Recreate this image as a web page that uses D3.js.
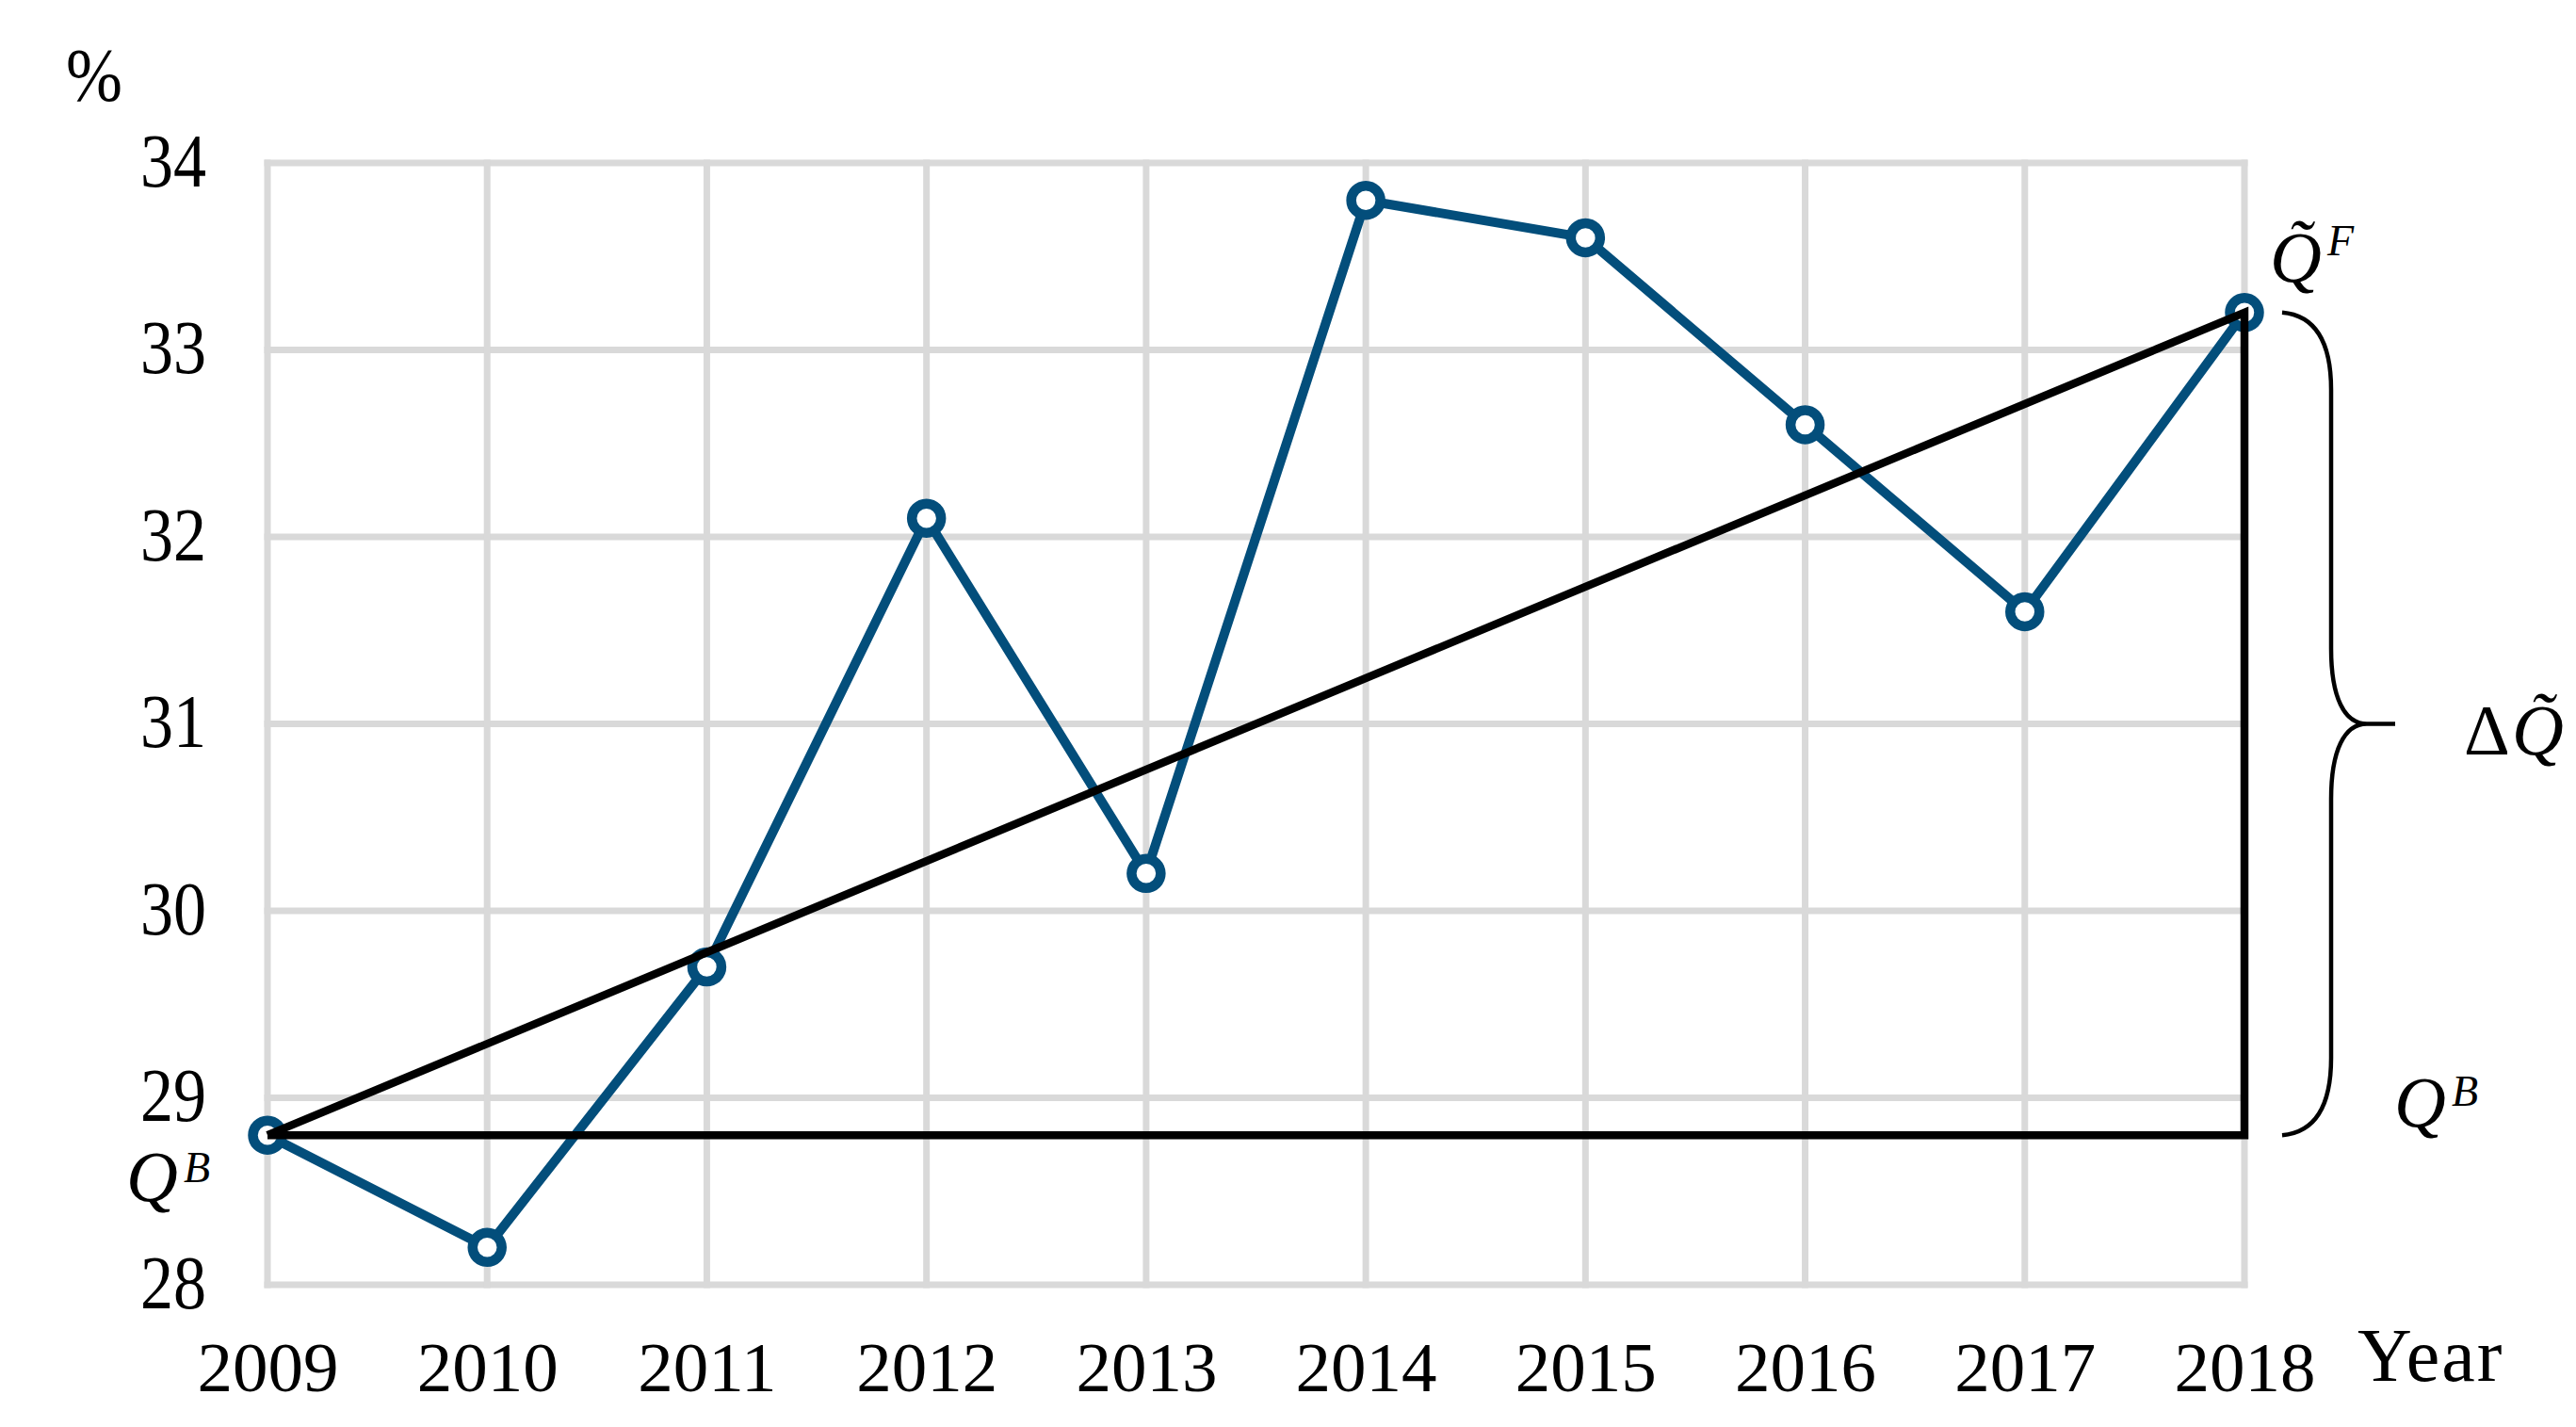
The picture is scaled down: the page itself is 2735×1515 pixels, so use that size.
<!DOCTYPE html>
<html>
<head>
<meta charset="utf-8">
<script src="https://cdn.jsdelivr.net/npm/d3@7"></script>
<style>
  html, body { margin: 0; padding: 0; background: #ffffff; }
  svg { display: block; }
  text { font-family: "Liberation Serif", "Times New Roman", serif; fill: #000; }
</style>
</head>
<body>
<script>
// ---- data ----
const years = [2009, 2010, 2011, 2012, 2013, 2014, 2015, 2016, 2017, 2018];
const values = [28.8, 28.2, 29.7, 32.1, 30.2, 33.8, 33.6, 32.6, 31.6, 33.2];
const yTicks = [28, 29, 30, 31, 32, 33, 34];
const yDomain = [28, 34];
const baseYear = 2009, finalYear = 2018;
const baseValue = 28.8, finalValue = 33.2;
const yUnit = "%";
const xTitle = "Year";

// ---- layout ----
const W = 2735, H = 1515;
const pLeft = 284, pRight = 2383, pTop = 173, pBottom = 1364;
const blue = "#034e7b";
const grid = "#d9d9d9";

const svg = d3.select("body").append("svg").attr("width", W).attr("height", H);

const x = d3.scaleLinear().domain([years[0], years[years.length - 1]]).range([pLeft, pRight]);
const y = d3.scaleLinear().domain(yDomain).range([pBottom, pTop]);

// grid
const g = svg.append("g");
g.selectAll("line.h").data(yTicks).join("line")
  .attr("x1", pLeft).attr("x2", pRight)
  .attr("y1", d => y(d)).attr("y2", d => y(d))
  .attr("stroke", grid).attr("stroke-width", 7).attr("stroke-linecap", "square");
g.selectAll("line.v").data(years).join("line")
  .attr("y1", pTop).attr("y2", pBottom)
  .attr("x1", d => x(d)).attr("x2", d => x(d))
  .attr("stroke", grid).attr("stroke-width", 7).attr("stroke-linecap", "square");

// axes labels via d3 axes
const yAxis = d3.axisLeft(y).tickValues(yTicks).tickSize(0).tickPadding(0).tickFormat(d3.format("d"));
const ya = svg.append("g").attr("transform", `translate(${219},0)`).call(yAxis);
ya.select(".domain").remove();
ya.selectAll("text").attr("font-size", 80).attr("font-family", "Liberation Serif").attr("dy", "0.3em").attr("x", 0)
  .attr("transform", "scale(0.875,1)").attr("fill", "#000");

const xAxis = d3.axisBottom(x).tickValues(years).tickSize(0).tickPadding(0).tickFormat(d3.format("d"));
const xa = svg.append("g").attr("transform", `translate(0,${1477})`).call(xAxis);
xa.select(".domain").remove();
xa.selectAll("text").attr("font-size", 75).attr("font-family", "Liberation Serif").attr("dy", 0).attr("y", 0)
  .attr("fill", "#000");

// unit and axis title
svg.append("text").attr("transform", "translate(70,107) scale(0.9,1)").attr("font-size", 80).text(yUnit);
svg.append("text").attr("x", 2503).attr("y", 1466).attr("font-size", 80).attr("letter-spacing", 2).text(xTitle);

// series line
const line = d3.line().x((d, i) => x(years[i])).y(d => y(d));
svg.append("path").datum(values).attr("d", line)
  .attr("fill", "none").attr("stroke", blue).attr("stroke-width", 10).attr("stroke-linejoin", "round");
svg.selectAll("circle.m").data(values).join("circle")
  .attr("cx", (d, i) => x(years[i])).attr("cy", d => y(d)).attr("r", 15.5)
  .attr("fill", "#fff").attr("stroke", blue).attr("stroke-width", 10.5);

// triangle
const tri = [[baseYear, baseValue], [finalYear, finalValue], [finalYear, baseValue], [baseYear, baseValue]];
svg.append("path").datum(tri)
  .attr("d", d3.line().x(d => x(d[0])).y(d => y(d[1])))
  .attr("fill", "none").attr("stroke", "#000").attr("stroke-width", 8.5).attr("stroke-linejoin", "miter");

// brace
const xs = x(finalYear), yT = y(finalValue), yB = y(baseValue), yM = (yT + yB) / 2;
const x0 = xs + 40, xv = xs + 92, xt = xs + 160, xk = xs + 130;
const bp = d3.path();
bp.moveTo(x0, yT);
bp.bezierCurveTo(x0 + 34, yT + 3, xv, yT + 30, xv, yT + 82);
bp.lineTo(xv, yM - 80);
bp.bezierCurveTo(xv, yM - 28, xv + 14, yM, xk, yM);
bp.lineTo(xt, yM);
bp.moveTo(xk, yM);
bp.bezierCurveTo(xv + 14, yM, xv, yM + 28, xv, yM + 80);
bp.lineTo(xv, yB - 82);
bp.bezierCurveTo(xv, yB - 30, x0 + 34, yB - 3, x0, yB);
svg.append("path").attr("d", bp.toString()).attr("fill", "none").attr("stroke", "#000").attr("stroke-width", 4.5);

// math labels
function qLabel(xq, yb, sup, supDy, tilde) {
  const t = svg.append("text").attr("x", xq).attr("y", yb).attr("font-size", 76);
  t.append("tspan").attr("font-style", "italic").text(tilde ? "Q\u0303" : "Q");
  t.append("tspan").attr("font-style", "italic").attr("font-size", 46).attr("dx", 6).attr("dy", supDy).text(sup);
}
qLabel(2410, 299, "F", -28, true);
qLabel(2542, 1196, "B", -22, false);
qLabel(134, 1275, "B", -20, false);

// delta Q tilde
const dq = svg.append("text").attr("x", 2616).attr("y", 801).attr("font-size", 76);
dq.append("tspan").text("\u0394");
dq.append("tspan").attr("font-style", "italic").attr("dx", 2).text("Q\u0303");
</script>
</body>
</html>
